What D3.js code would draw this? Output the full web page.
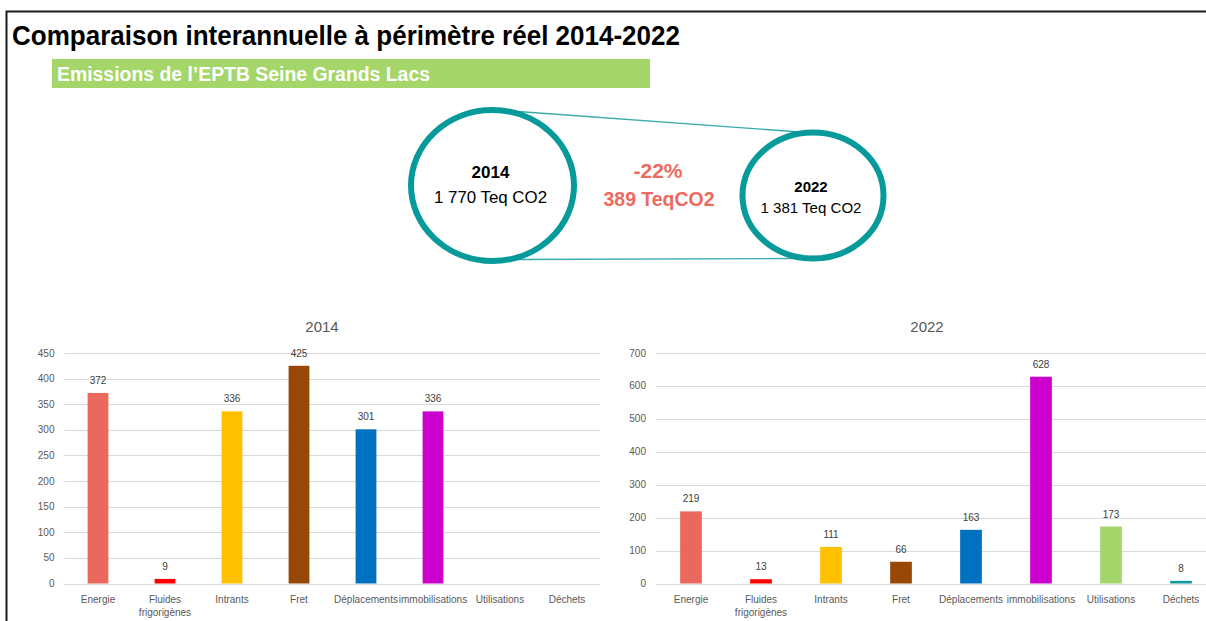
<!DOCTYPE html>
<html>
<head>
<meta charset="utf-8">
<script src="https://cdn.jsdelivr.net/npm/d3@7"></script>
<style>
body { margin: 0; background: #fff; }
svg { display: block; font-family: "Liberation Sans", Arial, sans-serif; }
.narrow { font-family: "Liberation Sans Narrow", "Arial Narrow", "Liberation Sans", sans-serif; }
.grid line { stroke: #d9d9d9; stroke-width: 1; }
.tick_label { fill: #595959; font-size: 10px; }
.cat_label { fill: #595959; font-size: 10px; }
.value_label { fill: #404040; font-size: 10px; }
.chart_title { fill: #595959; font-size: 15px; }
</style>
</head>
<body>
<script>
(function() {
    'use strict';

    var categories = ['Energie', 'Fluides frigorigènes', 'Intrants', 'Fret',
                      'Déplacements', 'immobilisations', 'Utilisations', 'Déchets'];
    var colors = ['#eb685d', '#ff0000', '#ffc000', '#974806',
                  '#0070c0', '#cc00cc', '#a3d56b', '#12999e'];
    var values_2014 = [372, 9, 336, 425, 301, 336, null, null];
    var values_2022 = [219, 13, 111, 66, 163, 628, 173, 8];
    var ticks_2014 = [0, 50, 100, 150, 200, 250, 300, 350, 400, 450];
    var ticks_2022 = [0, 100, 200, 300, 400, 500, 600, 700];
    var totals = [{year: '2014', total: '1 770 Teq CO2'},
                  {year: '2022', total: '1 381 Teq CO2'}];
    var change_pct = '-22%';
    var change_abs = '389 TeqCO2';

    var teal = '#079a9b';

    var svg = d3.select('body').append('svg')
        .attr('width', 1206)
        .attr('height', 621);

    // frame
    svg.append('path')
        .attr('d', 'M6.5,621 V11.5 H1206')
        .attr('fill', 'none')
        .attr('stroke', '#1a1a1a')
        .attr('stroke-width', 2);

    svg.append('text')
        .attr('class', 'narrow')
        .attr('x', 12).attr('y', 45)
        .attr('font-size', 28)
        .attr('font-weight', 'bold')
        .attr('textLength', 668)
        .attr('lengthAdjust', 'spacingAndGlyphs')
        .attr('fill', '#000')
        .text('Comparaison interannuelle à périmètre réel 2014-2022');

    svg.append('rect')
        .attr('x', 52).attr('y', 59)
        .attr('width', 598).attr('height', 29)
        .attr('fill', '#a4d66a');
    svg.append('text')
        .attr('class', 'narrow')
        .attr('x', 57).attr('y', 81)
        .attr('font-size', 20)
        .attr('font-weight', 'bold')
        .attr('textLength', 373)
        .attr('lengthAdjust', 'spacingAndGlyphs')
        .attr('fill', '#fff')
        .text('Emissions de l\u2019EPTB Seine Grands Lacs');

    // circles comparison
    var c1 = {cx: 492.5, cy: 185.5, rx: 81.5, ry: 75.5};
    var c2 = {cx: 813, cy: 195.5, rx: 70.5, ry: 63};

    svg.append('line')
        .attr('x1', 518).attr('y1', 111.5)
        .attr('x2', 800).attr('y2', 132)
        .attr('stroke', '#3aabab').attr('stroke-width', 1.3);
    svg.append('line')
        .attr('x1', 515).attr('y1', 259.5)
        .attr('x2', 795).attr('y2', 258.5)
        .attr('stroke', '#3aabab').attr('stroke-width', 1.3);

    [c1, c2].forEach(function(c) {
        svg.append('ellipse')
            .attr('cx', c.cx).attr('cy', c.cy)
            .attr('rx', c.rx).attr('ry', c.ry)
            .attr('fill', '#fff')
            .attr('stroke', teal)
            .attr('stroke-width', 6);
    });

    svg.append('text')
        .attr('x', c1.cx - 2).attr('y', 178)
        .attr('text-anchor', 'middle')
        .attr('font-size', 17).attr('font-weight', 'bold')
        .text(totals[0].year);
    svg.append('text')
        .attr('x', c1.cx - 2).attr('y', 203)
        .attr('text-anchor', 'middle')
        .attr('font-size', 17)
        .attr('textLength', 113)
        .attr('lengthAdjust', 'spacingAndGlyphs')
        .text(totals[0].total);
    svg.append('text')
        .attr('x', c2.cx - 2).attr('y', 192)
        .attr('text-anchor', 'middle')
        .attr('font-size', 15).attr('font-weight', 'bold')
        .text(totals[1].year);
    svg.append('text')
        .attr('x', c2.cx - 2).attr('y', 213)
        .attr('text-anchor', 'middle')
        .attr('font-size', 15)
        .attr('textLength', 101)
        .attr('lengthAdjust', 'spacingAndGlyphs')
        .text(totals[1].total);

    svg.append('text')
        .attr('x', 658).attr('y', 178)
        .attr('text-anchor', 'middle')
        .attr('font-size', 21).attr('font-weight', 'bold')
        .attr('fill', '#ee6a5e')
        .text(change_pct);
    svg.append('text')
        .attr('x', 659).attr('y', 206)
        .attr('text-anchor', 'middle')
        .attr('font-size', 21).attr('font-weight', 'bold')
        .attr('fill', '#ee6a5e')
        .attr('textLength', 111)
        .attr('lengthAdjust', 'spacingAndGlyphs')
        .text(change_abs);

    function bar_chart(opts) {
        var g = svg.append('g');
        var x = d3.scaleBand()
            .domain(categories)
            .range([opts.left, opts.right])
            .paddingInner(0.69)
            .paddingOuter(0.345);
        var y = d3.scaleLinear()
            .domain([0, opts.ticks[opts.ticks.length - 1]])
            .range([583.5, 353]);

        g.append('text')
            .attr('class', 'chart_title')
            .attr('x', opts.title_x).attr('y', 332)
            .attr('text-anchor', 'middle')
            .text(opts.title);

        var grid = g.append('g').attr('class', 'grid');
        grid.selectAll('line')
            .data(opts.ticks)
            .enter().append('line')
            .attr('x1', opts.left)
            .attr('x2', opts.grid_right)
            .attr('y1', function(d) { return Math.round(y(d)) + 0.5; })
            .attr('y2', function(d) { return Math.round(y(d)) + 0.5; });

        g.selectAll('.tick_label')
            .data(opts.ticks)
            .enter().append('text')
            .attr('class', 'tick_label')
            .attr('x', opts.left - 10)
            .attr('y', function(d) { return y(d) + 3.5; })
            .attr('text-anchor', 'end')
            .text(function(d) { return d; });

        var data = categories.map(function(c, i) {
            return {cat: c, value: opts.values[i], color: colors[i]};
        });

        g.selectAll('.bar')
            .data(data.filter(function(d) { return d.value !== null; }))
            .enter().append('rect')
            .attr('class', 'bar')
            .attr('x', function(d) { return x(d.cat); })
            .attr('width', x.bandwidth())
            .attr('y', function(d) { return y(d.value); })
            .attr('height', function(d) { return y(0) - y(d.value); })
            .attr('fill', function(d) { return d.color; });

        g.selectAll('.value_label')
            .data(data.filter(function(d) { return d.value !== null; }))
            .enter().append('text')
            .attr('class', 'value_label')
            .attr('x', function(d) { return x(d.cat) + x.bandwidth() / 2; })
            .attr('y', function(d) { return y(d.value) - 9; })
            .attr('text-anchor', 'middle')
            .text(function(d) { return d.value; });

        var cat_labels = g.selectAll('.cat_label')
            .data(categories)
            .enter().append('text')
            .attr('class', 'cat_label')
            .attr('text-anchor', 'middle')
            .attr('x', function(d) { return x(d) + x.bandwidth() / 2; })
            .attr('y', 603);
        cat_labels.each(function(d) {
            var words = d === 'Fluides frigorigènes' ? ['Fluides', 'frigorigènes'] : [d];
            var t = d3.select(this);
            words.forEach(function(w, i) {
                t.append('tspan')
                    .attr('x', t.attr('x'))
                    .attr('dy', i === 0 ? 0 : 13)
                    .text(w);
            });
        });
    }

    bar_chart({
        title: '2014', title_x: 322,
        left: 64.5, right: 600.5, grid_right: 600.5,
        values: values_2014, ticks: ticks_2014
    });
    bar_chart({
        title: '2022', title_x: 927,
        left: 656, right: 1216, grid_right: 1206,
        values: values_2022, ticks: ticks_2022
    });

})();
</script>
</body>
</html>
